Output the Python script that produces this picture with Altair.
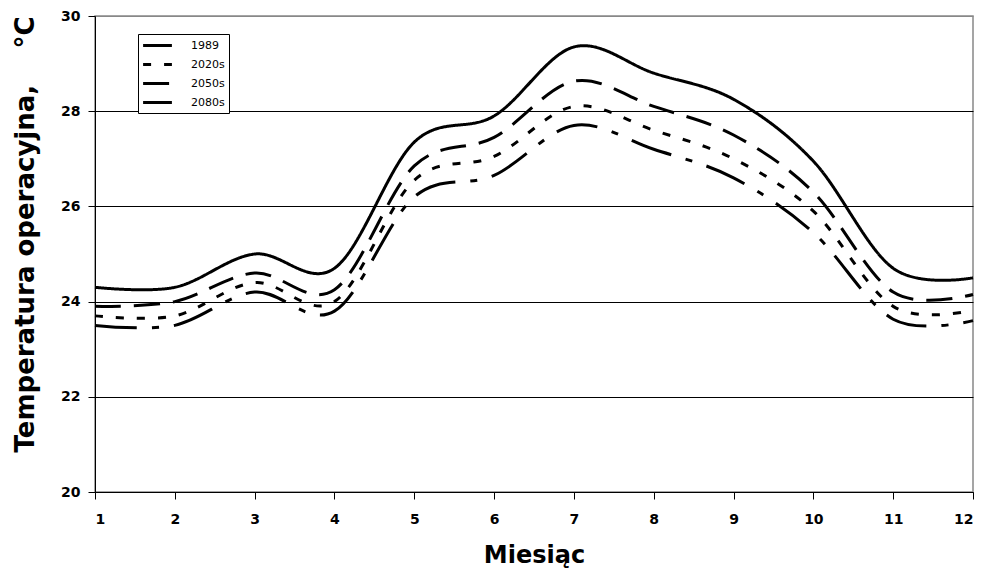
import altair as alt
import pandas as pd

months = list(range(1, 13))
series_names = ["1989", "2020s", "2050s", "2080s"]
t1989 = [23.5, 23.5, 24.2, 23.8, 26.2, 26.65, 27.7, 27.2, 26.6, 25.45, 23.63, 23.6]
t2020 = [23.7, 23.7, 24.4, 24.0, 26.55, 27.05, 28.1, 27.6, 27.0, 25.9, 23.9, 23.82]
t2050 = [23.9, 24.0, 24.6, 24.25, 26.85, 27.45, 28.63, 28.1, 27.5, 26.3, 24.2, 24.15]
t2080 = [24.3, 24.3, 25.0, 24.7, 27.35, 27.9, 29.35, 28.8, 28.25, 26.95, 24.7, 24.5]
y_ticks = [20, 22, 24, 26, 28, 30]

values = {"1989": t1989, "2020s": t2020, "2050s": t2050, "2080s": t2080}
rows = []
for s in series_names:
    for m, v in zip(months, values[s]):
        rows.append({"month": m, "series": s, "temp": v})
df = pd.DataFrame(rows)

dashes = [[42, 15, 7, 15], [8, 13], [26, 13], [1, 0]]
widths = [3, 3, 3, 3.6]

y_title = "Temperatura operacyjna," + "\u00a0" * 4 + "°C"

chart = (
    alt.Chart(df)
    .mark_line(interpolate="cardinal", tension=0, strokeCap="butt", color="black")
    .encode(
        x=alt.X(
            "month:Q",
            scale=alt.Scale(domain=[1, 12], nice=False, zero=False),
            axis=alt.Axis(values=months, format="d", grid=False, title="Miesiąc",
                          labelPadding=13, titleY=70, titleBaseline="alphabetic"),
        ),
        y=alt.Y(
            "temp:Q",
            scale=alt.Scale(domain=[20, 30], nice=False, zero=False),
            axis=alt.Axis(values=y_ticks, format="d", grid=True, title=y_title,
                          labelPadding=8, titleAngle=270, titleX=-62, titleY=218,
                          titleBaseline="alphabetic", titleAlign="center",
                          gridColor={"condition": {"test": "datum.value === 30", "value": "#888888"},
                                     "value": "black"}),
        ),
        strokeDash=alt.StrokeDash(
            "series:N",
            scale=alt.Scale(domain=series_names, range=dashes),
            legend=alt.Legend(title=None),
        ),
        strokeWidth=alt.StrokeWidth(
            "series:N",
            scale=alt.Scale(domain=series_names, range=widths),
            legend=alt.Legend(title=None),
        ),
        detail="series:N",
    )
    .properties(
        width=878,
        height=476,
        autosize=alt.AutoSizeParams(type="none"),
        padding={"left": 87, "top": 8, "right": 5, "bottom": 76},
    )
    .configure_view(stroke="#888888", strokeWidth=1.5)
    .configure_axis(
        domainColor="black",
        domainWidth=1,
        tickColor="black",
        tickSize=7,
        labelFont="DejaVu Sans",
        labelFontWeight="bold",
        labelFontSize=14,
        labelColor="black",
        titleFont="DejaVu Sans",
        titleFontWeight="bold",
        titleColor="black",
        gridWidth=1,
    )
    .configure_axisX(titleFontSize=24)
    .configure_axisY(titleFontSize=26)
    .configure_legend(
        orient="none",
        legendX=43,
        legendY=18,
        strokeColor="black",
        fillColor="white",
        padding=4,
        cornerRadius=0,
        labelFont="DejaVu Sans",
        labelFontSize=11,
        labelColor="black",
        symbolType="M-2.4,0L2.4,0",
        symbolStrokeColor="black",
        symbolSize=144,
        symbolStrokeWidth=3,
        symbolOffset=8,
        labelOffset=26,
        rowPadding=5,
    )
)

chart.save("out.html", embed_options={"renderer": "svg", "actions": False})
